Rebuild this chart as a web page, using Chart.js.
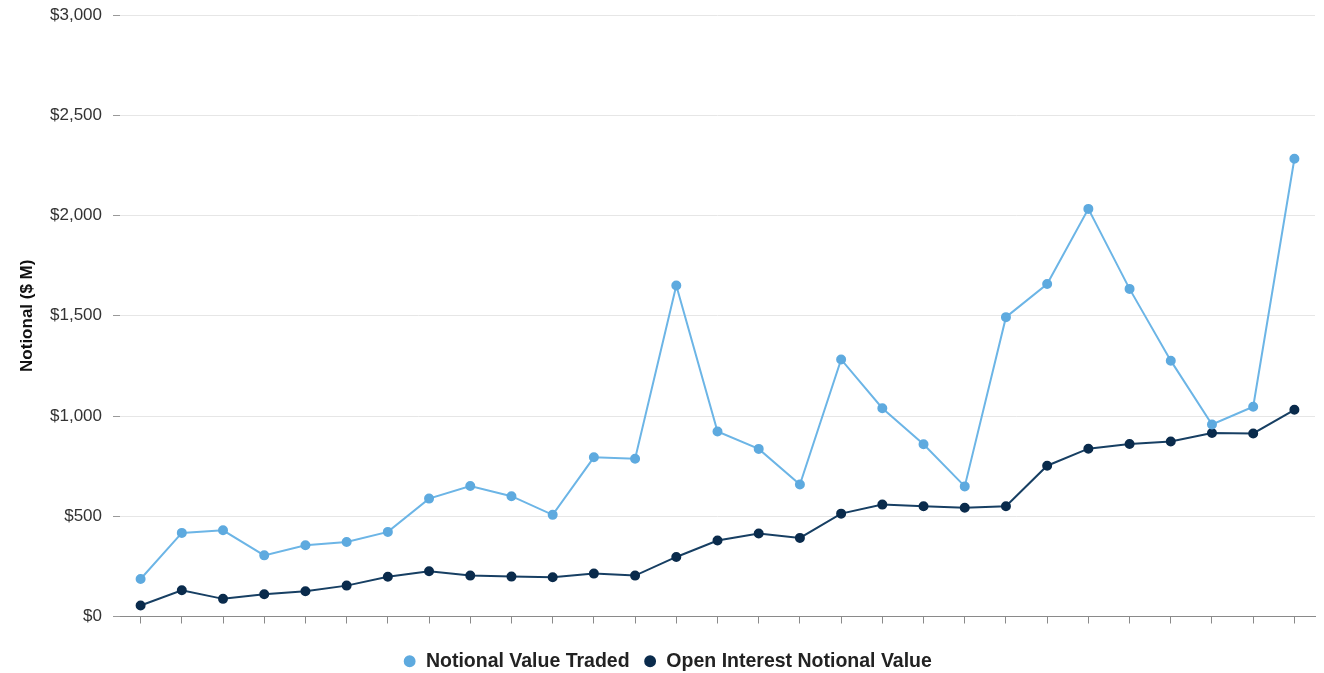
<!DOCTYPE html>
<html>
<head>
<meta charset="utf-8">
<script src="https://cdn.jsdelivr.net/npm/chart.js@4"></script>
<style>
  html, body { margin: 0; padding: 0; background: #fff; }
  #wrap { width: 1324px; height: 673px; }
</style>
</head>
<body>
<div id="wrap"><canvas id="c" width="1324" height="673"></canvas></div>
<script>
const categories = ['', '', '', '', '', '', '', '', '', '', '', '', '', '', '', '', '', '', '', '', '', '', '', '', '', '', '', '', ''];
const notionalValueTraded = [187, 417, 430, 305, 355, 372, 422, 588, 651, 600, 507, 794, 787, 1651, 923, 836, 658, 1282, 1039, 859, 649, 1493, 1658, 2033, 1634, 1276, 958, 1046, 2283];
const openInterestNotional = [55, 131, 88, 111, 126, 154, 198, 226, 204, 199, 196, 214, 204, 297, 379, 414, 392, 513, 558, 550, 542, 550, 752, 837, 860, 873, 915, 913, 1031];
const yTicks = [0, 500, 1000, 1500, 2000, 2500, 3000];
const seriesNames = ['Notional Value Traded', 'Open Interest Notional Value'];
const yTitle = 'Notional ($ M)';

const fmt = v => '$' + v.toLocaleString('en-US');

new Chart(document.getElementById('c'), {
  type: 'line',
  data: {
    labels: categories,
    datasets: [
      {
        label: seriesNames[0],
        data: notionalValueTraded,
        borderColor: '#6cb5e6',
        backgroundColor: '#5eaadf',
        pointBackgroundColor: '#5eaadf',
        pointBorderColor: '#5eaadf',
        borderWidth: 2,
        pointRadius: 4,
        tension: 0
      },
      {
        label: seriesNames[1],
        data: openInterestNotional,
        borderColor: '#173f63',
        backgroundColor: '#0a2b4c',
        pointBackgroundColor: '#0a2b4c',
        pointBorderColor: '#0a2b4c',
        borderWidth: 2,
        pointRadius: 4,
        tension: 0
      }
    ]
  },
  options: {
    responsive: false,
    animation: false,
    devicePixelRatio: 1,
    layout: { padding: { left: 20, right: 9, top: 15, bottom: -8 } },
    plugins: {
      tooltip: { enabled: false },
      legend: {
        position: 'bottom',
        labels: {
          usePointStyle: true,
          pointStyle: 'circle',
          boxWidth: 13,
          boxHeight: 7,
          padding: 14,
          color: '#222',
          font: { family: 'Liberation Sans', size: 19.5, weight: 'bold' }
        }
      }
    },
    scales: {
      x: {
        offset: true,
        grid: {
          offset: false,
          drawOnChartArea: false,
          drawTicks: true,
          tickLength: 7,
          tickColor: '#8a8a8a'
        },
        border: { display: true, color: '#8a8a8a', width: 1 },
        ticks: { display: true, callback: () => '' },
        afterFit: s => { s.height = 21; }
      },
      y: {
        min: 0,
        max: 3000,
        afterBuildTicks: s => { s.ticks = yTicks.map(v => ({ value: v })); },
        ticks: {
          callback: v => fmt(v),
          color: '#333',
          padding: 11,
          font: { family: 'Liberation Sans', size: 17 }
        },
        grid: {
          color: '#e6e6e6',
          tickColor: '#999',
          tickLength: 7,
          lineWidth: 1
        },
        border: { display: false },
        title: {
          display: true,
          text: yTitle,
          color: '#111',
          padding: { top: -3, bottom: 0 },
          font: { family: 'Liberation Sans', size: 17, weight: 'bold' }
        },
        afterFit: s => { s.width = 100; s.paddingTop = 0; s.paddingBottom = 0; }
      }
    }
  }
});
</script>
</body>
</html>
